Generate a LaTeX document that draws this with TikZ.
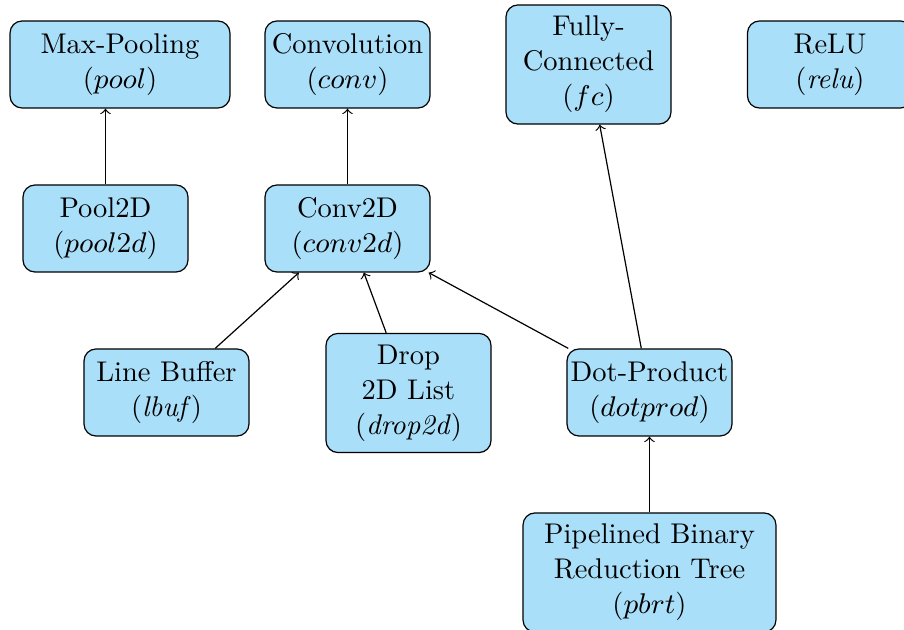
\RequirePackage{fix-cm}
\documentclass[tikz,border=0pt]{standalone}
\usepackage{fontspec}
\definecolor{boxfill}{RGB}{170,223,249}
\begin{document}
\begin{tikzpicture}[x=0.3333pt,y=-0.3333pt,
  block/.style={draw=black, fill=boxfill, rounded corners=4pt, align=center,
                minimum width=55pt, minimum height=29pt, inner xsep=0.8pt,
                line width=0.4pt, font=\fontsize{9.5pt}{11.7pt}\selectfont},
  tall/.style={minimum height=39.7pt},
  link/.style={->, line width=0.4pt}]
\clip (0,0) rectangle (904,630);
% top row
\node[block, minimum width=73.3pt] (pool) at (120,64.5) {Max-Pooling\\($pool$)};
\node[block] (conv) at (347.5,64.5) {Convolution\\($conv$)};
\node[block, tall] (fc) at (588.5,64.5) {Fully-\\Connected\\($fc$)};
\node[block] (relu) at (830,64.5) {ReLU\\(\textit{relu})};
% second row
\node[block] (pool2d) at (105.5,228.5) {Pool2D\\($pool2d$)};
\node[block] (conv2d) at (347.5,228.5) {Conv2D\\($conv2d$)};
% third row
\node[block] (lbuf) at (166.5,392.5) {Line Buffer\\(\textit{lbuf})};
\node[block, tall] (drop) at (408.5,393) {Drop\\2D List\\(\textit{drop2d})};
\node[block] (dot) at (649.5,392.5) {Dot-Product\\($dotprod$)};
% bottom
\node[block, tall, minimum width=84.3pt] (pbrt) at (649.5,572.5) {Pipelined Binary\\Reduction Tree\\($pbrt$)};
% connectors
\draw[link] (pool2d) -- (pool2d |- pool.south);
\draw[link] (conv2d) -- (conv);
\draw[link] (lbuf) -- (conv2d);
\draw[link] (drop) -- (conv2d);
\draw[link] (dot) -- (conv2d);
\draw[link] (dot) -- (fc);
\draw[link] (pbrt) -- (dot);
\end{tikzpicture}
\end{document}
